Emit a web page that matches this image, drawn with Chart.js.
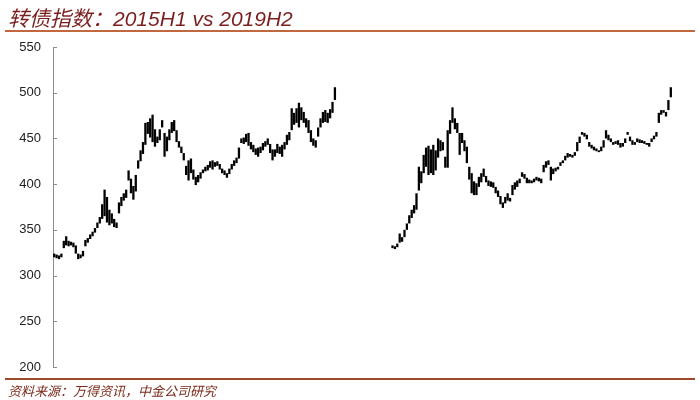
<!DOCTYPE html>
<html>
<head>
<meta charset="utf-8">
<script src="https://cdn.jsdelivr.net/npm/chart.js@4.4.0/dist/chart.umd.min.js"></script>
<style>
body { margin: 0; width: 700px; height: 400px; position: relative; background: #fff; overflow: hidden; }
#chart { position: absolute; left: 0; top: 0; }
#title { position: absolute; left: 8px; top: 2px; font-size: 21px; font-style: italic; color: #7b1e1e;
         font-family: "Liberation Sans", "Noto Sans CJK SC", sans-serif; white-space: nowrap; }
#topline { position: absolute; left: 5px; top: 30px; width: 690px; height: 2px; background: #c2683f; }
#botline { position: absolute; left: 5px; top: 378px; width: 690px; height: 2px; background: #9b4b2b; }
#source { position: absolute; left: 8px; top: 381px; font-size: 13px; font-style: italic; color: #7b2a1a;
          font-family: "Noto Sans CJK SC", sans-serif; white-space: nowrap; }
</style>
</head>
<body>
<canvas id="chart" width="700" height="400"></canvas>
<div id="title">转债指数：2015H1 vs 2019H2</div>
<div id="topline"></div>
<div id="botline"></div>
<div id="source">资料来源：万得资讯，中金公司研究</div>
<script>
// 2015H1 daily low / high
var lowH1 = [
    320,319,318,320,330,333,332,333,331,324,
    318,319,321,332,336,340,343,347,352,357,
    362,365,358,355,357,353,352,368,376,382,
    385,404,390,383,392,417,425,433,443,455,
    451,446,441,445,448,462,430,436,448,456,
    458,446,440,434,426,410,404,412,405,399,
    402,406,412,414,415,418,416,419,420,416,
    412,410,407,411,416,420,423,428,445,444,
    446,442,438,435,432,430,434,437,441,443,
    434,426,430,434,433,430,438,443,448,459,
    465,467,462,470,467,462,456,446,442,440,
    452,462,467,468,467,472,478,492
]
var highH1 = [
    324,323,322,324,338,343,338,337,336,333,
    324,323,327,339,341,345,348,352,358,364,
    378,394,386,372,368,362,358,380,386,390,
    394,415,406,398,410,426,437,446,467,468,
    472,476,460,452,460,470,456,452,460,468,
    470,459,447,441,434,420,426,428,416,408,
    410,413,416,419,421,425,426,424,425,422,
    417,415,412,417,422,426,429,440,450,451,
    455,456,446,443,439,440,441,445,447,450,
    444,438,438,444,441,443,446,454,457,483,
    478,483,489,484,479,472,470,459,450,448,
    462,472,479,481,478,482,490,506
]

// 2019H2 daily low / high
var lowH2 = [
    330,329,331,336,337,342,350,357,363,368,
    372,393,401,412,419,410,412,410,415,429,
    436,437,418,418,455,467,460,456,432,445,
    436,423,405,390,388,388,397,402,408,402,
    398,397,396,390,386,378,374,379,382,381,
    388,394,397,401,408,406,401,401,401,402,
    404,403,401,413,418,421,404,411,414,416,
    420,423,426,429,430,429,431,436,445,454,
    452,449,441,439,437,436,435,436,440,450,
    448,446,443,444,443,440,441,445,454,447,
    443,443,446,445,445,444,443,441,446,449,
    452,467,476,478,474,481,495
]
var highH2 = [
    333,332,335,346,342,350,357,366,372,377,
    390,419,414,432,440,442,438,443,437,450,
    448,446,430,459,470,484,472,467,456,456,
    448,441,419,412,403,401,408,412,417,409,
    404,403,402,397,393,387,380,386,390,385,
    399,402,404,406,413,411,407,405,404,406,
    408,407,406,421,425,426,419,417,418,419,
    424,426,431,434,433,432,435,446,452,457,
    456,454,446,443,441,439,437,441,448,459,
    454,450,446,447,448,445,445,450,457,452,
    448,446,450,449,448,447,445,445,450,453,
    457,478,481,481,479,492,506
]

var yTicks = [200, 250, 300, 350, 400, 450, 500, 550]

// empty trading-day slots between the two periods and after the second one
var gapDays = 23
var tailDays = 10

var bars = []
for (var i = 0; i < lowH1.length; i++) bars.push([lowH1[i], highH1[i]])
for (var i = 0; i < gapDays; i++) bars.push(null)
for (var i = 0; i < lowH2.length; i++) bars.push([lowH2[i], highH2[i]])
for (var i = 0; i < tailDays; i++) bars.push(null)
var days = bars.map(function(b, i) { return 'D' + (i + 1) })

// short tick marks on the inner side of the y axis
var innerTicks = {
    id: 'innerTicks',
    afterDraw: function(chart) {
        var y = chart.scales.y
        var c = chart.ctx
        c.save()
        c.strokeStyle = '#8c8c8c'
        c.lineWidth = 1
        y.ticks.forEach(function(t) {
            var py = Math.round(y.getPixelForValue(t.value)) + 0.5
            c.beginPath()
            c.moveTo(y.right, py)
            c.lineTo(y.right + 4, py)
            c.stroke()
        })
        c.restore()
    }
}

var ctx = document.getElementById('chart').getContext('2d')
var chart = new Chart(ctx, {
    type: 'bar',
    data: {
        labels: days,
        datasets: [{
            label: '转债指数',
            data: bars,
            backgroundColor: '#000',
            borderWidth: 0,
            barPercentage: 1,
            categoryPercentage: 0.95
        }]
    },
    options: {
        responsive: false,
        animation: false,
        layout: { padding: { top: 47, bottom: 33, right: 4, left: 0 } },
        plugins: { legend: { display: false }, tooltip: { enabled: false } },
        scales: {
            x: { display: false },
            y: {
                min: 200,
                max: 550,
                afterBuildTicks: function(s) { s.ticks = yTicks.map(function(v) { return { value: v } }) },
                afterFit: function(s) { s.width = 53 },
                ticks: { color: '#222', padding: 12, font: { family: 'Liberation Sans', size: 13 } },
                grid: { display: false, drawTicks: false },
                border: { display: true, color: '#8c8c8c', width: 1 }
            }
        }
    },
    plugins: [innerTicks]
})
</script>
</body>
</html>
